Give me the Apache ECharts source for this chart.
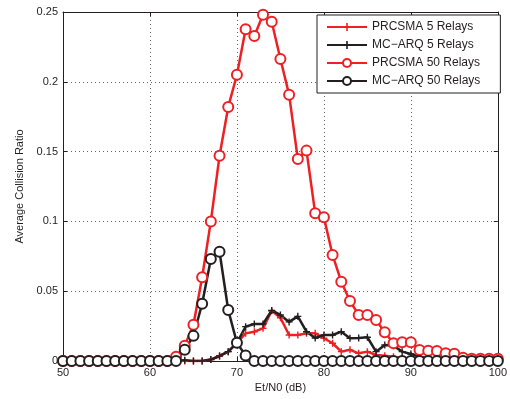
<!DOCTYPE html>
<html lang="en">
<head>
    <meta charset="UTF-8">
    <title>Average Collision Ratio</title>
    <script src="https://cdn.jsdelivr.net/npm/echarts@6/dist/echarts.min.js"></script>
    <style>
        *{ margin:0; padding:0; }
        body{ background:#fff; }
        #main{ width:510px; height:399px; }
    </style>
</head>
<body>
<div id="main"></div>
<script>
    // Et/N0 (dB)
    var snr = [50,51,52,53,54,55,56,57,58,59,60,61,62,63,64,65,66,67,68,69,70,
               71,72,73,74,75,76,77,78,79,80,81,82,83,84,85,86,87,88,89,90,
               91,92,93,94,95,96,97,98,99,100];

    var prcsma5 = [0,0,0,0,0,0,0,0,0,0,0,0,0,0,0,0,0,0.001,0.0036,0.0067,0.013,
                   0.0198,0.021,0.0234,0.036,0.031,0.0186,0.0186,0.0198,0.0198,0.0163,
                   0.0127,0.0067,0.008,0.0055,0.0067,0.0043,0.0038,0.003,0.002,0.002,
                   0.001,0.001,0.001,0.001,0.001,0.001,0.001,0.001,0.001,0.001];

    var mcarq5 = [0,0,0,0,0,0,0,0,0,0,0,0,0,0,0.0005,0,0,0.001,0.0036,0.0067,0.013,
                  0.0246,0.0265,0.0265,0.0362,0.033,0.028,0.032,0.021,0.0165,0.0186,
                  0.0186,0.021,0.0163,0.0165,0.017,0.0067,0.0115,0.011,0.0067,0.005,
                  0.003,0.002,0.002,0.002,0.003,0.003,0.001,0.001,0.001,0.001];

    var prcsma50 = [0,0,0,0,0,0,0,0,0,0,0,0,0,0.003,0.011,0.026,0.060,0.100,0.147,0.182,0.205,
                    0.2376,0.2328,0.248,0.243,0.2163,0.1908,0.1447,0.1507,0.1058,0.1029,
                    0.0759,0.0568,0.043,0.033,0.033,0.0294,0.0206,0.0127,0.0134,0.0134,
                    0.0079,0.0074,0.0072,0.0055,0.0052,0.0024,0.0017,0.0017,0.0017,0.0017];

    var mcarq50 = [0,0,0,0,0,0,0,0,0,0,0,0,0,0,0.008,0.018,0.041,0.073,0.0783,0.0365,0.013,
                   0.004,0,0,0,0,0,0,0,0,0,
                   0,0,0,0,0,0,0,0,0,0,
                   0,0,0,0,0,0,0,0,0,0];

    var xTicks = {min:50, max:100, interval:10};
    var yTicks = {min:0, max:0.25, interval:0.05};

    var RED = '#ee2024';
    var BLACK = '#231f20';
    var PLUS = 'path://M4,0H6V4H10V6H6V10H4V6H0V4H4Z';
    var FONT = 'Liberation Sans';

    function pairs(ys) {
        var out = [];
        for (var i = 0; i < snr.length; i++) out.push([snr[i], ys[i]]);
        return out;
    }

    function makeSeries(name, ys, color, symbol, size) {
        return {
            name: name,
            type: 'line',
            data: pairs(ys),
            symbol: symbol,
            symbolSize: size,
            showAllSymbol: true,
            lineStyle: { color: color, width: 2.5, type: 'solid' },
            itemStyle: { color: color, borderWidth: 2.4 },
            emphasis: { disabled: true },
            animation: false
        };
    }

    var myChart = echarts.init(document.getElementById('main'), null, {renderer: 'canvas'});

    var axisText = { color: '#231f20', fontFamily: FONT, fontSize: 11 };
    var gridLine = { show: true, lineStyle: { color: '#666', type: [1, 3], width: 1 } };
    var frameLine = { show: true, onZero: false, lineStyle: { color: '#231f20', width: 1 } };
    var inTick = { show: true, inside: true, length: 4, lineStyle: { color: '#231f20' } };

    var option = {
        backgroundColor: '#fff',
        animation: false,
        grid: { left: 63, top: 12, right: 8, bottom: 38, containLabel: false },
        legend: {
            orient: 'vertical',
            left: 317,
            top: 15,
            itemWidth: 40,
            itemHeight: 10,
            itemGap: 6,
            padding: [6, 20, 6, 9],
            backgroundColor: '#fff',
            borderColor: '#231f20',
            borderWidth: 1,
            textStyle: { color: '#231f20', fontFamily: FONT, fontSize: 12 },
            data: ['PRCSMA 5 Relays', 'MC\u2212ARQ 5 Relays', 'PRCSMA 50 Relays', 'MC\u2212ARQ 50 Relays']
        },
        xAxis: [
            {
                type: 'value', min: xTicks.min, max: xTicks.max, interval: xTicks.interval,
                name: 'Et/N0 (dB)', nameLocation: 'middle', nameGap: 15,
                nameTextStyle: axisText,
                axisLine: frameLine, axisTick: inTick,
                axisLabel: Object.assign({ margin: 6 }, axisText),
                splitLine: gridLine
            },
            {
                type: 'value', min: xTicks.min, max: xTicks.max, interval: xTicks.interval,
                position: 'top',
                axisLine: frameLine, axisTick: inTick,
                axisLabel: { show: false }, splitLine: { show: false }
            }
        ],
        yAxis: [
            {
                type: 'value', min: yTicks.min, max: yTicks.max, interval: yTicks.interval,
                name: 'Average Collision Ratio', nameLocation: 'middle', nameGap: 38,
                nameTextStyle: axisText,
                axisLine: frameLine, axisTick: inTick,
                axisLabel: Object.assign({ margin: 5 }, axisText),
                splitLine: gridLine
            },
            {
                type: 'value', min: yTicks.min, max: yTicks.max, interval: yTicks.interval,
                position: 'right',
                axisLine: frameLine, axisTick: inTick,
                axisLabel: { show: false }, splitLine: { show: false }
            }
        ],
        series: [
            makeSeries('PRCSMA 5 Relays', prcsma5, RED, PLUS, 7),
            makeSeries('MC\u2212ARQ 5 Relays', mcarq5, BLACK, PLUS, 7),
            makeSeries('PRCSMA 50 Relays', prcsma50, RED, 'emptyCircle', 10),
            makeSeries('MC\u2212ARQ 50 Relays', mcarq50, BLACK, 'emptyCircle', 10)
        ]
    };

    myChart.setOption(option);
    window.onresize = myChart.resize;
</script>
</body>
</html>
